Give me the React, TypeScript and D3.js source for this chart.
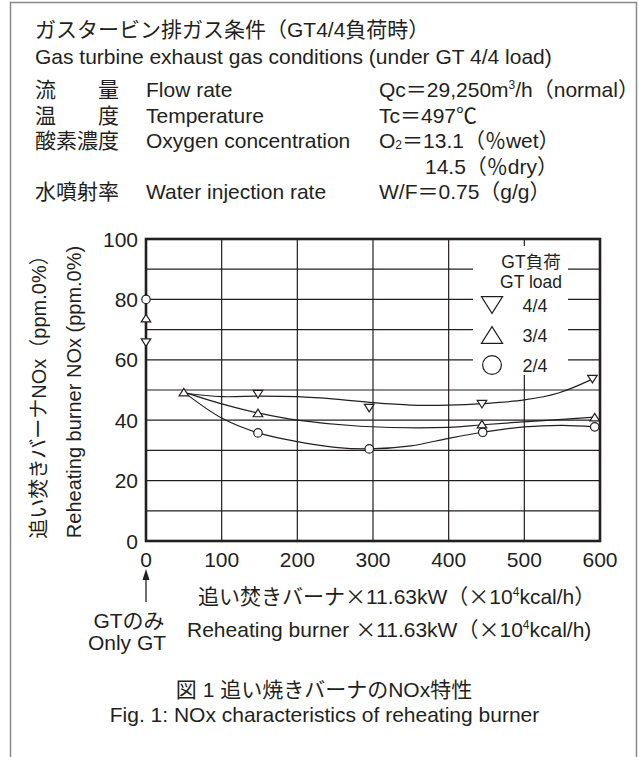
import React from "react";
import * as d3 from "d3";

// ---------- data ----------
const xTicks = [0, 100, 200, 300, 400, 500, 600];
const yTicks = [0, 20, 40, 60, 80, 100];
const yGrid = [10, 20, 30, 40, 50, 60, 70, 80, 90];
const xGrid = [100, 200, 300, 400, 500];

const loadLabels = ["4/4", "3/4", "2/4"];
const loadSymbols = ["down", "up", "circle"];

// measured points (x: burner load ×11.63kW, y: NOx ppm)
const pointsX44 = [0, 148, 295, 444, 590];
const pointsY44 = [65.7, 48.6, 44, 45.3, 53.6];
const pointsX34 = [0, 50, 148, 444, 593];
const pointsY34 = [73.8, 49.3, 42.4, 38.7, 41];
const pointsX24 = [0, 148, 295, 445, 593];
const pointsY24 = [80, 35.8, 30.5, 36, 37.8];

// fitted curves
const curveX44 = [50, 100, 150, 200, 250, 300, 350, 400, 445, 500, 545, 590];
const curveY44 = [49, 47.8, 48, 47.8, 47, 45.8, 45, 45, 45.5, 46.7, 49, 53.6];
const curveX34 = [50, 100, 148, 200, 283, 400, 445, 520, 593];
const curveY34 = [49.3, 45.4, 42.4, 40, 38, 37.6, 38.5, 39.8, 41];
const curveX24 = [50, 100, 148, 200, 250, 295, 350, 400, 445, 500, 550, 593];
const curveY24 = [49.3, 40.7, 35.8, 32.9, 31, 30.5, 31.5, 34, 36, 37.8, 38.3, 37.8];

const headerTitleJp = "ガスタービン排ガス条件（GT4/4負荷時）";
const headerTitleEn = "Gas turbine exhaust gas conditions (under GT 4/4 load)";

const FONT = "'Liberation Sans', Arial, 'Noto Sans CJK JP', sans-serif";
const CJK = "'Noto Sans CJK JP', sans-serif";
const INK = "#231f20";

const W = 639;
const H = 757;

function Marker({ kind, x, y, s }: { kind: string; x: number; y: number; s: number }) {
  if (kind === "circle") {
    return <circle cx={x} cy={y} r={s * 0.47} fill="#fff" stroke={INK} strokeWidth={1.2} />;
  }
  const hw = s * 0.53;
  const hh = s * 0.42;
  const pts =
    kind === "down"
      ? [[x - hw, y - hh], [x + hw, y - hh], [x, y + hh]]
      : [[x - hw, y + hh], [x + hw, y + hh], [x, y - hh]];
  return <polygon points={pts.map((p) => p.join(",")).join(" ")} fill="#fff" stroke={INK} strokeWidth={1.2} />;
}

export default function App() {
  const x = d3.scaleLinear().domain([0, 600]).range([146, 600]);
  const y = d3.scaleLinear().domain([0, 100]).range([541, 239]);
  const line = d3
    .line<[number, number]>()
    .x((d) => x(d[0]))
    .y((d) => y(d[1]))
    .curve(d3.curveCatmullRom.alpha(0.5));

  const series = [
    { px: pointsX44, py: pointsY44, cx: curveX44, cy: curveY44, sym: loadSymbols[0] },
    { px: pointsX34, py: pointsY34, cx: curveX34, cy: curveY34, sym: loadSymbols[1] },
    { px: pointsX24, py: pointsY24, cx: curveX24, cy: curveY24, sym: loadSymbols[2] },
  ];

  const rowY = [97, 122.5, 148, 173.5, 199];

  return (
    <svg
      width={W}
      height={H}
      style={{ position: "absolute", left: 0, top: 0, background: "#fff" }}
      fontFamily={FONT}
      fill={INK}
    >
      {/* outer frame */}
      <path d={`M10.5,${H + 5} V2.5 H636.5 V${H + 5}`} fill="none" stroke="#8a8a8a" strokeWidth={1.5} />

      {/* header */}
      <g fontSize={21}>
        <text x={35} y={37}>{headerTitleJp}</text>
        <text x={35} y={64}>{headerTitleEn}</text>

        <text x={35} y={rowY[0]}>流</text>
        <text x={98} y={rowY[0]}>量</text>
        <text x={146} y={rowY[0]}>Flow rate</text>
        <text x={379} y={rowY[0]}>
          Qc＝29,250m<tspan fontSize={12} dy={-8}>3</tspan>
          <tspan dy={8}>/h（normal）</tspan>
        </text>

        <text x={35} y={rowY[1]}>温</text>
        <text x={98} y={rowY[1]}>度</text>
        <text x={146} y={rowY[1]}>Temperature</text>
        <text x={379} y={rowY[1]}>Tc＝497℃</text>

        <text x={35} y={rowY[2]}>酸素濃度</text>
        <text x={146} y={rowY[2]}>Oxygen concentration</text>
        <text x={379} y={rowY[2]}>
          O<tspan fontSize={12} dy={1}>2</tspan>
          <tspan dy={-1}>＝13.1（％wet）</tspan>
        </text>

        <text x={425} y={rowY[3]}>14.5（％dry）</text>

        <text x={35} y={rowY[4]}>水噴射率</text>
        <text x={146} y={rowY[4]}>Water injection rate</text>
        <text x={379} y={rowY[4]}>W/F＝0.75（g/g）</text>
      </g>

      {/* grid */}
      <g stroke={INK} strokeWidth={1.2}>
        {yGrid.map((v) => (
          <line key={"gy" + v} x1={x(0)} x2={x(600)} y1={y(v)} y2={y(v)} />
        ))}
        {xGrid.map((v) => (
          <line key={"gx" + v} x1={x(v)} x2={x(v)} y1={y(0)} y2={y(100)} />
        ))}
      </g>

      {/* legend background */}
      <rect x={473} y={246} width={95} height={129} fill="#fff" />

      {/* plot border */}
      <rect x={x(0)} y={y(100)} width={x(600) - x(0)} height={y(0) - y(100)} fill="none" stroke={INK} strokeWidth={2.6} />

      {/* curves */}
      <g fill="none" stroke={INK} strokeWidth={1.2}>
        {series.map((s, i) => (
          <path key={"c" + i} d={line(s.cx.map((v, j) => [v, s.cy[j]] as [number, number])) || ""} />
        ))}
      </g>

      {/* markers */}
      {series.map((s, i) =>
        s.px.map((v, j) => <Marker key={"m" + i + "-" + j} kind={s.sym} x={x(v)} y={y(s.py[j])} s={9} />)
      )}

      {/* legend */}
      <g fontSize={17.5} textAnchor="middle">
        <text x={531} y={268}>GT負荷</text>
        <text x={531} y={288}>GT load</text>
        {loadLabels.map((l, i) => (
          <g key={"lg" + l}>
            <Marker kind={loadSymbols[i]} x={492} y={305 + i * 30} s={20} />
            <text x={535} y={311.5 + i * 30} fontSize={18}>{l}</text>
          </g>
        ))}
      </g>

      {/* y ticks */}
      <g fontSize={21} textAnchor="end">
        {yTicks.map((v) => (
          <text key={"yt" + v} x={138} y={y(v) + 7.5}>{v}</text>
        ))}
      </g>
      {/* x ticks */}
      <g fontSize={21} textAnchor="middle">
        {xTicks.map((v) => (
          <text key={"xt" + v} x={x(v)} y={567}>{v}</text>
        ))}
      </g>

      {/* y title */}
      <g fontSize={20} textAnchor="middle">
        <text transform="translate(46,392) rotate(-90)">追い焚きバーナNOx（ppm.0%）</text>
        <text transform="translate(81,392) rotate(-90)">Reheating burner NOx (ppm.0%)</text>
      </g>

      {/* x title */}
      <g fontSize={21}>
        <text x={198} y={604}>
          追い焚きバーナ<tspan fontFamily={CJK}>×</tspan>11.63kW（<tspan fontFamily={CJK}>×</tspan>10
          <tspan fontSize={12} dy={-8}>4</tspan>
          <tspan dy={8}>kcal/h）</tspan>
        </text>
        <text x={187} y={637}>
          Reheating burner <tspan fontFamily={CJK}>×</tspan>11.63kW（<tspan fontFamily={CJK}>×</tspan>10
          <tspan fontSize={12} dy={-8}>4</tspan>
          <tspan dy={8}>kcal/h)</tspan>
        </text>
      </g>

      {/* Only GT arrow */}
      <line x1={x(0)} x2={x(0)} y1={602} y2={576} stroke={INK} strokeWidth={1.3} />
      <polygon points={`${x(0)},569 ${x(0) - 3.5},580 ${x(0) + 3.5},580`} fill={INK} />
      <g fontSize={21} textAnchor="middle">
        <text x={129} y={628}>GTのみ</text>
        <text x={127} y={650}>Only GT</text>
      </g>

      {/* captions */}
      <g fontSize={21} textAnchor="middle">
        <text x={324} y={697}>図 1 追い焼きバーナのNOx特性</text>
        <text x={324.5} y={722}>Fig. 1: NOx characteristics of reheating burner</text>
      </g>
    </svg>
  );
}
